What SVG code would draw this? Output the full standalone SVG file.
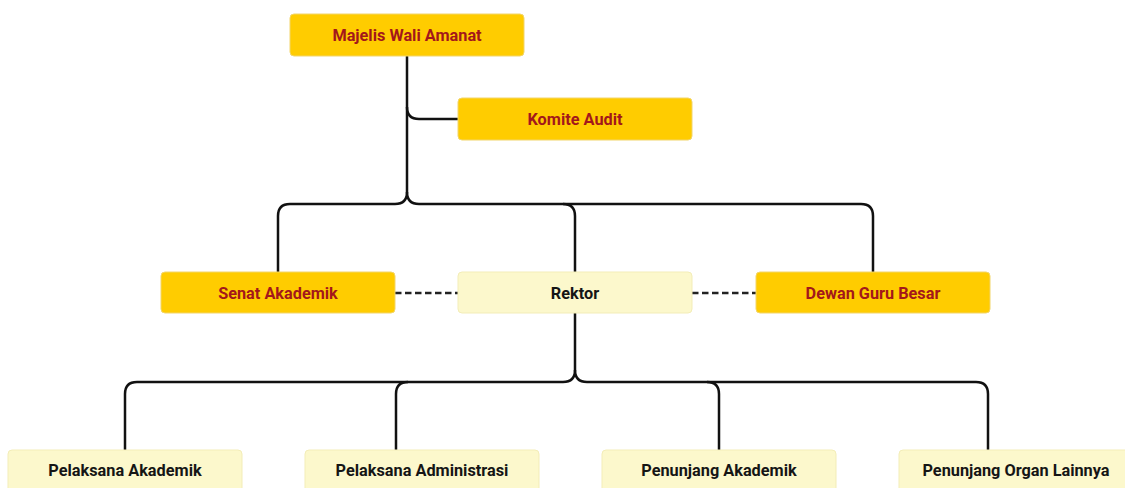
<svg xmlns="http://www.w3.org/2000/svg" width="1125" height="488" viewBox="0 0 1125 488">
<style>
.gold{fill:#FFCC00;stroke:#F2D56A;stroke-width:1}
.pale{fill:#FCF8CC;stroke:#F3EDB8;stroke-width:1}
.t{font-family:Roboto,"Liberation Sans",sans-serif;font-weight:bold;font-size:16.3px;text-anchor:middle;dominant-baseline:central}
.red{fill:#A3171B}
.blk{fill:#151515}
.ln{fill:none;stroke:#111;stroke-width:2.5}
.dash{fill:none;stroke:#222;stroke-width:2.4;stroke-dasharray:6.5 3.5}
</style>
<rect width="1125" height="488" fill="#fff"/>
<g id="connectors">
<path class="ln" d="M407 56 V192 Q407 204 395 204 H290 Q278 204 278 216 V272"/>
<path class="ln" d="M407 192 Q407 204 419 204 H563 Q575 204 575 216 V272"/>
<path class="ln" d="M563 204 H861 Q873 204 873 216 V272"/>
<path class="ln" d="M407 107 Q407 119 419 119 H458"/>
<path class="ln" d="M575 313 V370 Q575 382 563 382 H137 Q125 382 125 394 V450"/>
<path class="ln" d="M408 382 Q396 382 396 394 V450"/>
<path class="ln" d="M575 370 Q575 382 587 382 H976 Q988 382 988 394 V450"/>
<path class="ln" d="M707 382 Q719 382 719 394 V450"/>
<path class="dash" d="M395 293 H458"/>
<path class="dash" d="M692 293 H756"/>
</g>
<g id="majelis"><rect class="gold" x="290" y="14" width="234" height="42" rx="4"/><text class="t red" x="407" y="35">Majelis Wali Amanat</text></g>
<g id="komite"><rect class="gold" x="458" y="98" width="234" height="42" rx="4"/><text class="t red" x="575" y="119">Komite Audit</text></g>
<g id="senat"><rect class="gold" x="161" y="272" width="234" height="41" rx="4"/><text class="t red" x="278" y="293">Senat Akademik</text></g>
<g id="rektor"><rect class="pale" x="458" y="272" width="234" height="41" rx="4"/><text class="t blk" x="575" y="293">Rektor</text></g>
<g id="dewan"><rect class="gold" x="756" y="272" width="234" height="41" rx="4"/><text class="t red" x="873" y="293">Dewan Guru Besar</text></g>
<g id="pelaksana-akademik"><rect class="pale" x="8" y="450" width="234" height="42" rx="4"/><text class="t blk" x="125" y="470">Pelaksana Akademik</text></g>
<g id="pelaksana-administrasi"><rect class="pale" x="305" y="450" width="234" height="42" rx="4"/><text class="t blk" x="422" y="470">Pelaksana Administrasi</text></g>
<g id="penunjang-akademik"><rect class="pale" x="602" y="450" width="234" height="42" rx="4"/><text class="t blk" x="719" y="470">Penunjang Akademik</text></g>
<g id="penunjang-organ"><rect class="pale" x="899" y="450" width="234" height="42" rx="4"/><text class="t blk" x="1016" y="470">Penunjang Organ Lainnya</text></g>
</svg>
